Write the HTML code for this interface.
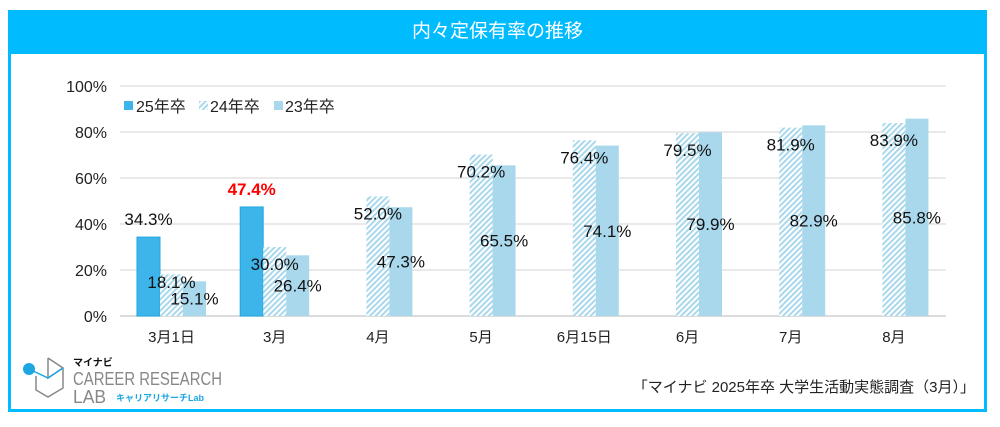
<!DOCTYPE html>
<html><head><meta charset="utf-8"><style>
body{margin:0;width:1000px;height:427px;background:#fff;overflow:hidden;font-family:"Liberation Sans","Noto Sans CJK JP",sans-serif;}
#frame{position:absolute;left:8px;top:10px;width:973px;height:399px;border:3px solid #00bcff;border-top:none;}
#title{position:absolute;left:8px;top:10px;width:979px;height:44px;background:#00bcff;color:#fff;font-size:19px;text-align:center;line-height:44px;}
</style></head><body>
<div id="frame"></div>
<div id="title">内々定保有率の推移</div>
<svg id="chart" width="1000" height="427" style="position:absolute;left:0;top:0">
<defs><pattern id="hatch" width="4" height="4" patternUnits="userSpaceOnUse" patternTransform="rotate(45)">
<rect width="4" height="4" fill="#fff"/><rect width="2" height="4" fill="#a9d8ec"/></pattern></defs>
</svg>
<script>
const categories=["3月1日","3月","4月","5月","6月15日","6月","7月","8月"];
const s25=[34.3,47.4,null,null,null,null,null,null];
const s24=[18.1,30.0,52.0,70.2,76.4,79.5,81.9,83.9];
const s23=[15.1,26.4,47.3,65.5,74.1,79.9,82.9,85.8];
const yTicks=[0,20,40,60,80,100];
const svg=document.getElementById('chart');
const NS='http://www.w3.org/2000/svg';
const y=v=>316-v*2.3;
const x=i=>171.5+i*103.2;
function mk(t,a){const e=document.createElementNS(NS,t);for(const k in a)e.setAttribute(k,a[k]);svg.appendChild(e);return e;}
yTicks.forEach(t=>{
 const l=mk('line',{x1:120,x2:946,y1:y(t),y2:y(t),stroke:t===0?'#cfcfcf':'#e2e2e2','stroke-width':1.5});
 
 
 const tx=mk('text',{x:107,y:y(t)+6,'text-anchor':'end','font-size':16,fill:'#222'});tx.textContent=t+'%';
 
 
});
const W=23;
function lab(txt,cx,cy,col){const t=mk('text',{x:cx,y:cy,'text-anchor':'middle','font-size':17,fill:col||'#111'});t.textContent=txt;return t;}
categories.forEach((c,i)=>{
 const cx=x(i);
 if(s25[i]!=null){
  const r=mk('rect',{x:cx-34.5,y:y(s25[i]),width:W,height:s25[i]*2.3,fill:'#3db5ea',stroke:'#1ea6e0','stroke-width':1});
  
  
 }
 const r2=mk('rect',{x:cx-11.5,y:y(s24[i]),width:W,height:s24[i]*2.3,fill:'url(#hatch)'});
 
 
 const r3=mk('rect',{x:cx+11.5,y:y(s23[i]),width:W,height:s23[i]*2.3,fill:'#a9d8ec'});
 
 
 if(s25[i]!=null){const l=lab(s25[i].toFixed(1)+'%',cx-23,y(s25[i])-12,i===1?'#ff0000':'#111');if(i===1)l.setAttribute('font-weight','bold');
  
  }
 const l2=lab(s24[i].toFixed(1)+'%',cx,Math.min(y(s24[i])+23,288),null);
 
 
 const l3=lab(s23[i].toFixed(1)+'%',cx+23,(y(s23[i])+316)/2+6,null);
 
 
 const xt=mk('text',{x:cx,y:342,'text-anchor':'middle','font-size':15,fill:'#222'});xt.textContent=c;
 
 
});
</script>
<svg width="1000" height="427" style="position:absolute;left:0;top:0">
<g font-size="16" fill="#222">
<rect x="124" y="101" width="9" height="9" fill="#3db5ea"/><text x="136" y="112">25年卒</text>
<rect x="199" y="101" width="9" height="9" fill="url(#hatch)"/><text x="210" y="112">24年卒</text>
<rect x="274" y="101" width="9" height="9" fill="#a9d8ec"/><text x="285" y="112">23年卒</text>
</g>
<g>
<circle cx="29" cy="369" r="6" fill="#1ea6e0"/>
<path d="M48 358 L63 368 L48 378 L48 358 M36 376 L36 390 L48 397 L63 388 L63 368" fill="none" stroke="#888" stroke-width="1.5"/>
<path d="M29 369 L48 378 L63 368" fill="none" stroke="#1ea6e0" stroke-width="1.5"/>
<text x="73" y="366" font-size="10" font-weight="bold" fill="#111">マイナビ</text>
<text x="73" y="385" font-size="18" fill="#888" textLength="149" lengthAdjust="spacingAndGlyphs">CAREER RESEARCH</text>
<text x="73" y="403" font-size="18" fill="#888" textLength="33" lengthAdjust="spacingAndGlyphs">LAB</text>
<text x="116" y="401" font-size="9" font-weight="bold" fill="#1ea6e0">キャリアリサーチLab</text>
</g>
<text x="975" y="392" text-anchor="end" font-size="15" fill="#222">「マイナビ 2025年卒 大学生活動実態調査（3月）」</text>
</svg>
</body></html>
